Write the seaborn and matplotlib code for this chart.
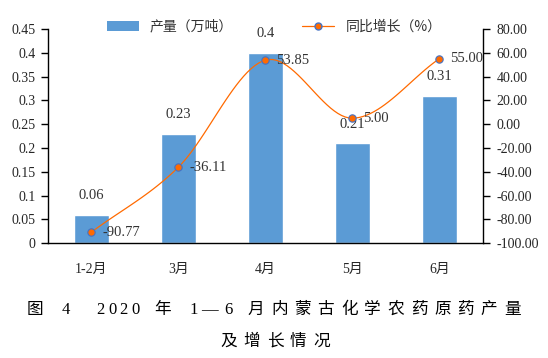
import numpy as np
import matplotlib
matplotlib.use("Agg")
import matplotlib.pyplot as plt
import seaborn as sns
from matplotlib.lines import Line2D
from matplotlib.patches import Patch

# data
months = ["1-2月", "3月", "4月", "5月", "6月"]
output = [0.06, 0.23, 0.40, 0.21, 0.31]          # 产量（万吨）
growth = [-90.77, -36.11, 53.85, 5.00, 55.00]    # 同比增长（%）
output_labels = ["0.06", "0.23", "0.4", "0.21", "0.31"]
growth_labels = ["-90.77", "-36.11", "53.85", "5.00", "55.00"]
caption_1 = "图 4  2020 年 1—6 月内蒙古化学农药原药产量"
caption_2 = "及增长情况"

bar_color = "#5B9BD5"
line_color = "#FF6A00"
edge_blue = "#4472C4"
text_color = "#333333"

sns.set_style("white")
plt.rcParams['font.family'] = ['Liberation Serif', 'Noto Sans CJK SC', 'DejaVu Sans']

fig = plt.figure(figsize=(5.48, 3.58), dpi=100)
ax = fig.add_axes([0.0876, 0.321, 0.7934, 0.598])

sns.barplot(x=months, y=output, color=bar_color, saturation=1, width=0.4, ax=ax)
ax.set_ylim(0, 0.45)
ax.set_yticks(np.arange(0, 0.451, 0.05))
ax.set_yticklabels(["0", "0.05", "0.1", "0.15", "0.2", "0.25", "0.3", "0.35", "0.4", "0.45"])
ax.set_xlim(-0.5, len(months) - 0.5)

# category labels at centers, tick marks at boundaries
ax.set_xticks(range(len(months)))
ax.set_xticklabels(months, fontsize=10)
ax.tick_params(axis='x', length=0, pad=14)
ax.set_xticks(np.arange(-0.5, len(months), 1), minor=True)
ax.tick_params(axis='x', which='minor', length=5, width=1, color='black', direction='out')
ax.tick_params(axis='y', length=5, width=1, color='black', direction='out', labelsize=10, pad=4)

for s in ['top', 'right']:
    ax.spines[s].set_visible(False)
for s in ['left', 'bottom']:
    ax.spines[s].set_color('black')
    ax.spines[s].set_linewidth(1)

for i, (v, lab) in enumerate(zip(output, output_labels)):
    ax.annotate(lab, (i, v), xytext=(0, 9), textcoords='offset points',
                ha='center', va='bottom', fontsize=10.5, color=text_color)

# secondary axis for growth
ax2 = ax.twinx()
ax2.set_ylim(-100, 80)
ax2.set_yticks(np.arange(-100, 81, 20))
ax2.set_yticklabels([f"{t:.2f}" for t in np.arange(-100, 81, 20)])
ax2.tick_params(axis='y', length=5, width=1, color='black', direction='out', labelsize=10, pad=5)
for s in ['top', 'left', 'bottom']:
    ax2.spines[s].set_visible(False)
ax2.spines['right'].set_color('black')
ax2.spines['right'].set_linewidth(1)
ax2.grid(False)
ax.grid(False)

# smoothed line (Catmull-Rom through the data points)
xs = np.arange(len(growth), dtype=float)
ys = np.array(growth, dtype=float)
px = np.concatenate([[2 * xs[0] - xs[1]], xs, [2 * xs[-1] - xs[-2]]])
py = np.concatenate([[2 * ys[0] - ys[1]], ys, [2 * ys[-1] - ys[-2]]])
cx, cy = [], []
t = np.linspace(0, 1, 25)
for k in range(1, len(px) - 2):
    for arr, out in ((px, cx), (py, cy)):
        p0, p1, p2, p3 = arr[k - 1], arr[k], arr[k + 1], arr[k + 2]
        out.extend(0.5 * (2 * p1 + (-p0 + p2) * t + (2 * p0 - 5 * p1 + 4 * p2 - p3) * t ** 2
                          + (-p0 + 3 * p1 - 3 * p2 + p3) * t ** 3))
ax2.plot(cx, cy, color=line_color, lw=0.9, zorder=3)
sns.scatterplot(x=xs, y=ys, ax=ax2, color=line_color, edgecolor=edge_blue,
                linewidth=0.8, s=28, zorder=4, legend=False)

for i, (v, lab) in enumerate(zip(growth, growth_labels)):
    ax2.annotate(lab, (i, v), xytext=(8, 0), textcoords='offset points',
                 ha='left', va='center', fontsize=10.5, color=text_color)

# legend
handles = [Patch(facecolor=bar_color, edgecolor='none'),
           Line2D([0], [0], color=line_color, lw=0.9, marker='o', markersize=5,
                  markerfacecolor=line_color, markeredgecolor=edge_blue)]
fig.legend(handles, ["产量（万吨）", "同比增长（%）"], loc='center', ncol=2,
           bbox_to_anchor=(0.5, 0.925), frameon=False, handlelength=2.3,
           columnspacing=5, prop={'family': ['Noto Sans CJK SC'], 'size': 10},
           labelcolor=text_color)


def spaced_text(s, xc, y, size=12, track=0.4):
    # draw a string char by char with extra tracking, centred at xc (figure fraction)
    r = fig.canvas.get_renderer()
    fam = ['Liberation Serif', 'Noto Sans CJK SC', 'DejaVu Sans']
    items = [fig.text(0, y, ch, fontsize=size, family=fam, va='center', ha='left',
                      color='black') for ch in s]
    W = fig.bbox.width
    em = size * fig.dpi / 72
    widths = []
    for it, ch in zip(items, s):
        w = it.get_window_extent(r).width if ch != ' ' else em * 0.5
        widths.append(w)
    adv = [w * (1 + track) for w in widths]
    total = sum(adv) - widths[-1] * track
    x = xc * W - total / 2
    for it, a in zip(items, adv):
        it.set_x(x / W)
        x += a


spaced_text(caption_1, 0.499, 0.134)
spaced_text(caption_2, 0.502, 0.045)

fig.savefig("out.png", dpi=100)
